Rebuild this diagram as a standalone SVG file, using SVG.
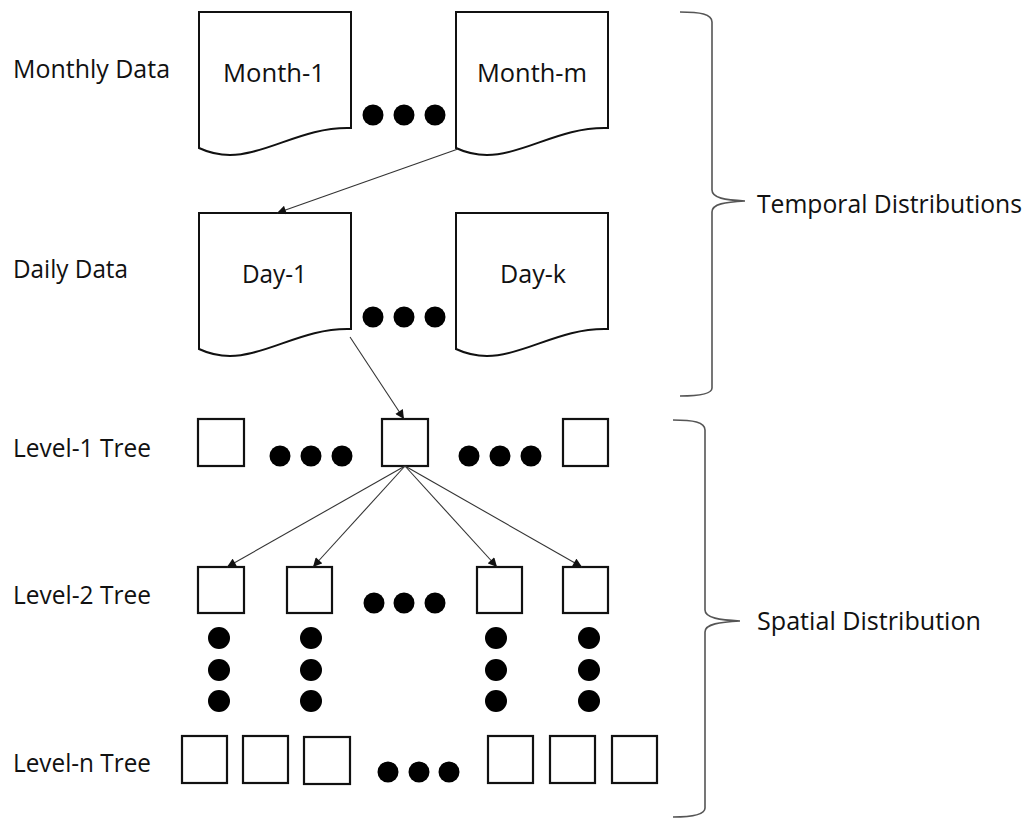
<svg xmlns="http://www.w3.org/2000/svg" width="1026" height="820" viewBox="0 0 1026 820">
<style>
.lbl{font-family:"Open Sans","Liberation Sans",sans-serif;font-size:25px;fill:#111}
.doc{fill:#fff;stroke:#111;stroke-width:2}
.box{fill:#fff;stroke:#111;stroke-width:2.2}
.dot{fill:#000}
.conn{fill:none;stroke:#333;stroke-width:1.1}
.brace{fill:none;stroke:#555;stroke-width:1.6}
</style>
<defs>
<marker id="ah" viewBox="0 0 10 10" refX="10" refY="5" markerWidth="10" markerHeight="9" markerUnits="userSpaceOnUse" orient="auto">
<path d="M0,0 L10,5 L0,10 Z" fill="#111"/>
</marker>
<path id="docshape" d="M0,0 H152 V116 C91,114 51,160 0,136 Z"/>
</defs>
<rect width="1026" height="820" fill="#fff"/>

<g id="row-labels">
<text class="lbl" x="13" y="78" textLength="157" lengthAdjust="spacingAndGlyphs">Monthly Data</text>
<text class="lbl" x="13" y="278" textLength="115" lengthAdjust="spacingAndGlyphs">Daily Data</text>
<text class="lbl" x="13" y="457" textLength="138" lengthAdjust="spacingAndGlyphs">Level-1 Tree</text>
<text class="lbl" x="13" y="604" textLength="138" lengthAdjust="spacingAndGlyphs">Level-2 Tree</text>
<text class="lbl" x="13" y="772" textLength="138" lengthAdjust="spacingAndGlyphs">Level-n Tree</text>
</g>

<g id="month-1">
<use href="#docshape" class="doc" transform="translate(199,12)"/>
<text class="lbl" x="223" y="82" textLength="102" lengthAdjust="spacingAndGlyphs">Month-1</text>
</g>
<g id="month-m">
<use href="#docshape" class="doc" transform="translate(456,12)"/>
<text class="lbl" x="477" y="82" textLength="110" lengthAdjust="spacingAndGlyphs">Month-m</text>
</g>
<g id="month-dots">
<circle class="dot" cx="373" cy="115" r="10.5"/><circle class="dot" cx="404" cy="115" r="10.5"/><circle class="dot" cx="435" cy="115" r="10.5"/>
</g>

<g id="day-1">
<use href="#docshape" class="doc" transform="translate(199,213)"/>
<text class="lbl" x="242" y="283" textLength="65" lengthAdjust="spacingAndGlyphs">Day-1</text>
</g>
<g id="day-k">
<use href="#docshape" class="doc" transform="translate(456,213)"/>
<text class="lbl" x="500" y="283" textLength="66" lengthAdjust="spacingAndGlyphs">Day-k</text>
</g>
<g id="day-dots">
<circle class="dot" cx="373" cy="317" r="10.5"/><circle class="dot" cx="404" cy="317" r="10.5"/><circle class="dot" cx="435" cy="317" r="10.5"/>
</g>

<g id="level-1">
<rect class="box" x="198" y="419" width="46" height="47"/>
<rect class="box" x="382" y="419" width="46" height="47"/>
<rect class="box" x="563" y="419" width="45" height="47"/>
<circle class="dot" cx="280" cy="456" r="10.5"/><circle class="dot" cx="311" cy="456" r="10.5"/><circle class="dot" cx="342" cy="456" r="10.5"/>
<circle class="dot" cx="469" cy="456" r="10.5"/><circle class="dot" cx="500" cy="456" r="10.5"/><circle class="dot" cx="531" cy="456" r="10.5"/>
</g>

<g id="level-2">
<rect class="box" x="198" y="567" width="46" height="46"/>
<rect class="box" x="287" y="567" width="45" height="46"/>
<rect class="box" x="477" y="567" width="45" height="46"/>
<rect class="box" x="563" y="567" width="45" height="46"/>
<circle class="dot" cx="374" cy="603" r="10.5"/><circle class="dot" cx="404" cy="603" r="10.5"/><circle class="dot" cx="435" cy="603" r="10.5"/>
</g>

<g id="vertical-dots">
<circle class="dot" cx="219" cy="638" r="11"/><circle class="dot" cx="219" cy="670" r="11"/><circle class="dot" cx="219" cy="701" r="11"/>
<circle class="dot" cx="311" cy="638" r="11"/><circle class="dot" cx="311" cy="670" r="11"/><circle class="dot" cx="311" cy="701" r="11"/>
<circle class="dot" cx="496" cy="638" r="11"/><circle class="dot" cx="496" cy="670" r="11"/><circle class="dot" cx="496" cy="701" r="11"/>
<circle class="dot" cx="589" cy="638" r="11"/><circle class="dot" cx="589" cy="670" r="11"/><circle class="dot" cx="589" cy="701" r="11"/>
</g>

<g id="level-n">
<rect class="box" x="182" y="736" width="45" height="47"/>
<rect class="box" x="243" y="736" width="45" height="47"/>
<rect class="box" x="304" y="737" width="46" height="47"/>
<rect class="box" x="488" y="736" width="45" height="47"/>
<rect class="box" x="550" y="736" width="45" height="47"/>
<rect class="box" x="612" y="736" width="45" height="47"/>
<circle class="dot" cx="388" cy="772" r="10.5"/><circle class="dot" cx="419" cy="772" r="10.5"/><circle class="dot" cx="449" cy="772" r="10.5"/>
</g>

<g id="connectors">
<line class="conn" x1="458" y1="149" x2="277" y2="213" marker-end="url(#ah)"/>
<line class="conn" x1="350" y1="337" x2="404" y2="419" marker-end="url(#ah)"/>
<line class="conn" x1="405" y1="466" x2="227" y2="567" marker-end="url(#ah)"/>
<line class="conn" x1="405" y1="466" x2="313" y2="567" marker-end="url(#ah)"/>
<line class="conn" x1="405" y1="466" x2="497" y2="567" marker-end="url(#ah)"/>
<line class="conn" x1="405" y1="466" x2="582" y2="567" marker-end="url(#ah)"/>
</g>

<g id="temporal-brace">
<path class="brace" d="M680,12 C700,12 712,14 712,22 V190 C712,198 725,200 745,201 C725,202 712,204 712,212 V388 C712,394 700,396 680,396"/>
<text class="lbl" x="757" y="213" textLength="265" lengthAdjust="spacingAndGlyphs">Temporal Distributions</text>
</g>
<g id="spatial-brace">
<path class="brace" d="M673,420 C693,420 705,422 705,430 V610 C705,618 720,620 740,621 C720,622 705,624 705,632 V808 C705,814 693,817 673,817"/>
<text class="lbl" x="757" y="630" textLength="224" lengthAdjust="spacingAndGlyphs">Spatial Distribution</text>
</g>
</svg>
